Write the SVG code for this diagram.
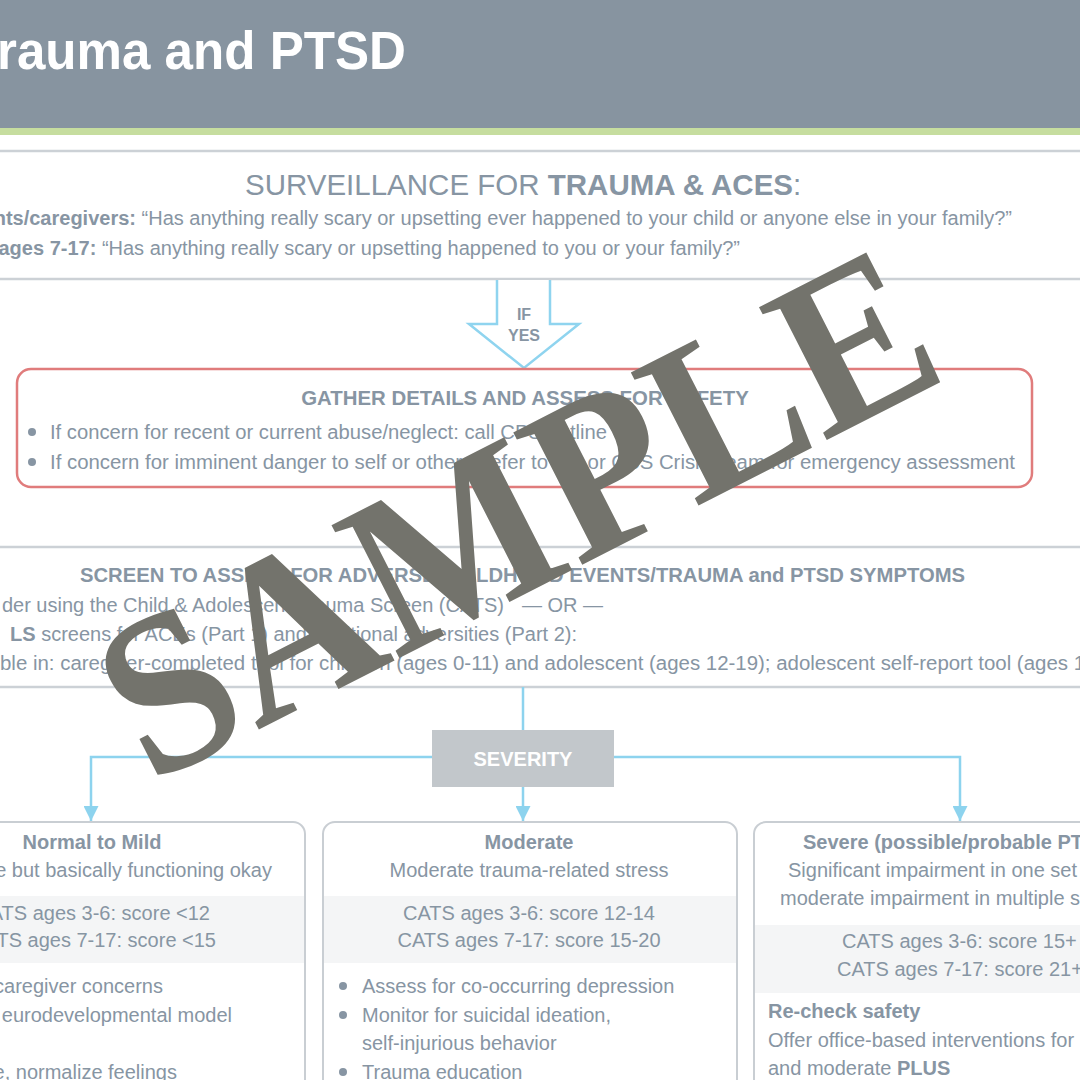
<svg xmlns="http://www.w3.org/2000/svg" width="1080" height="1080" viewBox="0 0 1080 1080">
<defs>
<style>
.t{fill:#8795a3;font-family:"Liberation Sans",Arial,sans-serif;font-size:20px}
.b{font-weight:bold}
.box{fill:#ffffff;stroke:#ccd1d6;stroke-width:2.5}
.col{fill:#ffffff;stroke:#c9ced3;stroke-width:2}
.band{fill:#f4f5f6}
.conn{fill:none;stroke:#8dd3ee;stroke-width:2.5}
.dot{fill:#8795a3}
</style>
<marker id="ah" viewBox="0 0 10 10" refX="10" refY="5" markerWidth="15" markerHeight="15" markerUnits="userSpaceOnUse" orient="auto">
<path d="M0,0 L10,5 L0,10 z" fill="#8dd3ee"/>
</marker>
</defs>
<rect width="1080" height="1080" fill="#ffffff"/>

<g id="header">
<rect x="0" y="0" width="1080" height="128" fill="#8794a0"/>
<rect x="0" y="128" width="1080" height="7" fill="#c6dd9f"/>
<text x="-3" y="69" textLength="409" lengthAdjust="spacingAndGlyphs" style="fill:#ffffff;font-family:'Liberation Sans',Arial,sans-serif;font-size:54px;font-weight:bold">rauma and PTSD</text>
</g>

<g id="surveillance">
<rect class="box" x="-10" y="151" width="1100" height="128"/>
<text class="t" x="245" y="195" style="font-size:29.5px">SURVEILLANCE FOR <tspan class="b">TRAUMA &amp; ACES</tspan>:</text>
<text class="t" x="1012" y="225" text-anchor="end"><tspan class="b">nts/caregivers:</tspan> “Has anything really scary or upsetting ever happened to your child or anyone else in your family?”</text>
<text class="t" x="740" y="255" text-anchor="end"><tspan class="b">ages 7-17:</tspan> “Has anything really scary or upsetting happened to you or your family?”</text>
</g>

<g id="if-yes">
<path d="M497,280 V324 H469 L524,368 L579,324 H550 V280" fill="#ffffff" stroke="#8fd4ef" stroke-width="2.5"/>
<text class="t b" x="524" y="320" text-anchor="middle" style="font-size:16px">IF</text>
<text class="t b" x="524" y="341" text-anchor="middle" style="font-size:16px">YES</text>
</g>

<g id="gather">
<rect x="17" y="369" width="1015" height="118" rx="14" fill="#ffffff" stroke="#e07c7c" stroke-width="2.5"/>
<text class="t b" x="525" y="405" text-anchor="middle" style="font-size:20.4px">GATHER DETAILS AND ASSESS FOR SAFETY</text>
<circle class="dot" cx="32" cy="432" r="4"/>
<text class="t" x="50" y="439" textLength="557" lengthAdjust="spacingAndGlyphs">If concern for recent or current abuse/neglect: call CPS/hotline</text>
<circle class="dot" cx="32" cy="462" r="4"/>
<text class="t" x="50" y="469" textLength="965" lengthAdjust="spacingAndGlyphs">If concern for imminent danger to self or others: refer to ED or CSS Crisis Team for emergency assessment</text>
</g>

<g id="screen">
<rect class="box" x="-10" y="547" width="1100" height="140"/>
<text class="t b" x="80" y="582" textLength="885" lengthAdjust="spacingAndGlyphs">SCREEN TO ASSESS FOR ADVERSE CHILDHOOD EVENTS/TRAUMA and PTSD SYMPTOMS</text>
<text class="t" x="504" y="612" text-anchor="end">der using the Child &amp; Adolescent Trauma Screen (CATS)</text>
<text class="t" x="522" y="612">— OR —</text>
<text class="t" x="577" y="641" text-anchor="end"><tspan class="b">LS</tspan> screens for ACEs (Part 1) and additional adversities (Part 2):</text>
<text class="t" x="0" y="670" textLength="1085" lengthAdjust="spacingAndGlyphs">ble in: caregiver-completed tool for children (ages 0-11) and adolescent (ages 12-19); adolescent self-report tool (ages 1</text>
</g>

<g id="connectors">
<line class="conn" x1="523" y1="687" x2="523" y2="731"/>
<polyline class="conn" points="432,757 91,757 91,821" marker-end="url(#ah)"/>
<polyline class="conn" points="614,757 960,757 960,821" marker-end="url(#ah)"/>
<line class="conn" x1="523" y1="787" x2="523" y2="821" marker-end="url(#ah)"/>
</g>

<g id="severity">
<rect x="432" y="730" width="182" height="57" fill="#c2c7cb"/>
<text class="b" x="523" y="766" text-anchor="middle" style="fill:#ffffff;font-family:'Liberation Sans',Arial,sans-serif;font-size:20px">SEVERITY</text>
</g>

<g id="mild">
<rect class="col" x="-20" y="822" width="325" height="300" rx="12"/>
<rect class="band" x="-10" y="896" width="314" height="67"/>
<text class="t b" x="92" y="849" text-anchor="middle">Normal to Mild</text>
<text class="t" x="272" y="877" text-anchor="end">e but basically functioning okay</text>
<text class="t" x="210" y="920" text-anchor="end">ATS ages 3-6: score &lt;12</text>
<text class="t" x="216" y="947" text-anchor="end">TS ages 7-17: score &lt;15</text>
<text class="t" x="163" y="993" text-anchor="end">caregiver concerns</text>
<text class="t" x="232" y="1022" text-anchor="end">eurodevelopmental model</text>
<text class="t" x="177" y="1079" text-anchor="end">e, normalize feelings</text>
</g>

<g id="moderate">
<rect class="col" x="323" y="822" width="414" height="300" rx="12"/>
<rect class="band" x="324" y="896" width="412" height="67"/>
<text class="t b" x="529" y="849" text-anchor="middle">Moderate</text>
<text class="t" x="529" y="877" text-anchor="middle">Moderate trauma-related stress</text>
<text class="t" x="529" y="920" text-anchor="middle">CATS ages 3-6: score 12-14</text>
<text class="t" x="529" y="947" text-anchor="middle">CATS ages 7-17: score 15-20</text>
<circle class="dot" cx="343" cy="986" r="4"/>
<text class="t" x="362" y="993">Assess for co-occurring depression</text>
<circle class="dot" cx="343" cy="1015" r="4"/>
<text class="t" x="362" y="1022">Monitor for suicidal ideation,</text>
<text class="t" x="362" y="1050">self-injurious behavior</text>
<circle class="dot" cx="343" cy="1072" r="4"/>
<text class="t" x="362" y="1079">Trauma education</text>
</g>

<g id="severe">
<rect class="col" x="754" y="822" width="350" height="300" rx="12"/>
<rect class="band" x="755" y="925" width="340" height="68"/>
<text class="t b" x="803" y="849">Severe (possible/probable PT</text>
<text class="t" x="788" y="877">Significant impairment in one set</text>
<text class="t" x="780" y="905">moderate impairment in multiple s</text>
<text class="t" x="842" y="948">CATS ages 3-6: score 15+</text>
<text class="t" x="837" y="976">CATS ages 7-17: score 21+</text>
<text class="t b" x="768" y="1018">Re-check safety</text>
<text class="t" x="768" y="1047">Offer office-based interventions for</text>
<text class="t" x="768" y="1075">and moderate <tspan class="b">PLUS</tspan></text>
</g>

<g id="watermark">
<text x="150" y="785" transform="rotate(-27 150 785)" textLength="900" lengthAdjust="spacingAndGlyphs" style="fill:#73736c;font-family:'Liberation Serif','Times New Roman',serif;font-size:228px;font-weight:bold">SAMPLE</text>
</g>
</svg>
